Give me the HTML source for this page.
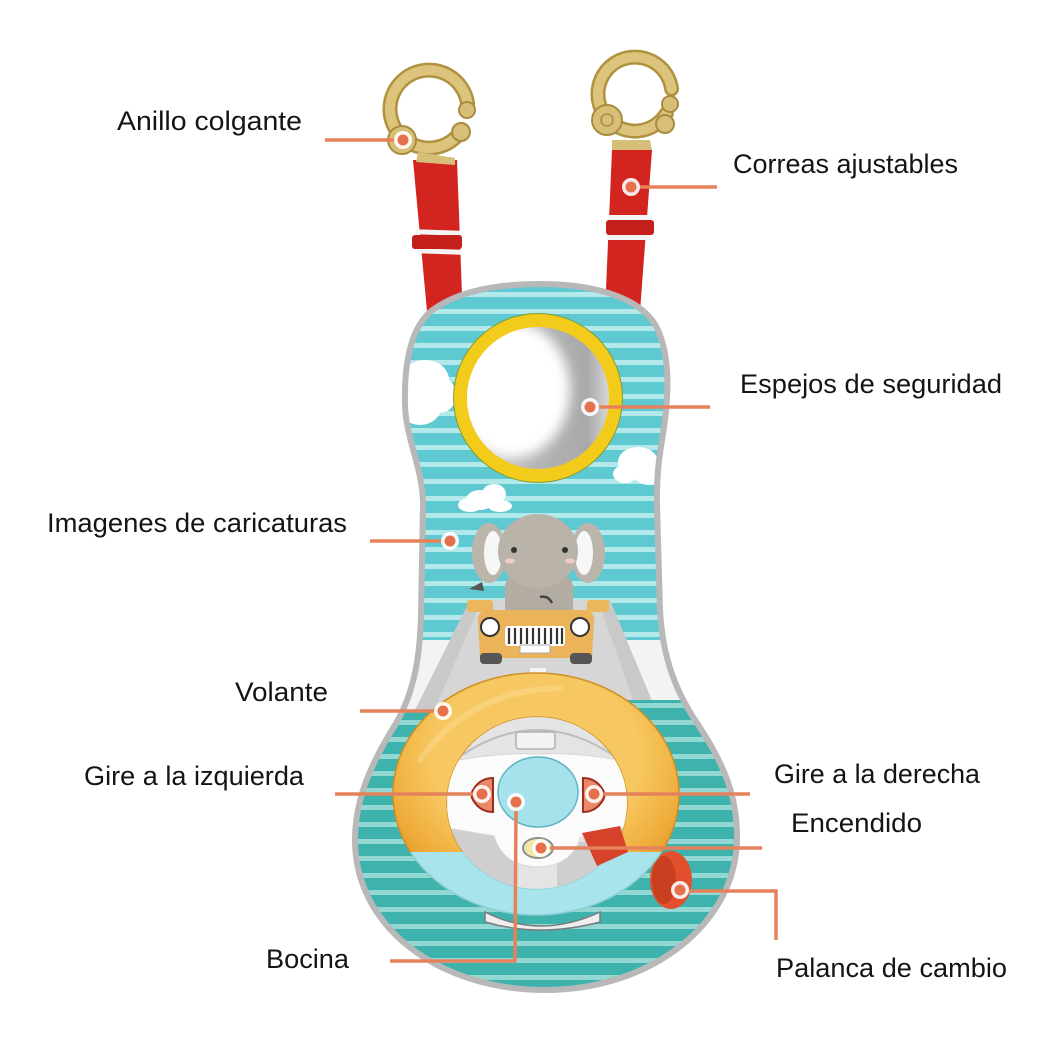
<!DOCTYPE html>
<html><head><meta charset="utf-8">
<style>
html,body{margin:0;padding:0;background:#fff;}
svg{display:block;}
.t{font-family:"Liberation Sans",Arial,sans-serif;font-size:27px;fill:#141414;}
</style></head><body>
<svg width="1056" height="1040" viewBox="0 0 1056 1040" xmlns="http://www.w3.org/2000/svg">
<defs>
  <pattern id="sUp" width="40" height="17" patternUnits="userSpaceOnUse" x="0" y="3">
    <rect width="40" height="17" fill="#5fc9d1"/>
    <rect y="0" width="40" height="5" fill="#b4e9ec"/>
  </pattern>
  <pattern id="sLo" width="40" height="17" patternUnits="userSpaceOnUse" x="0" y="6">
    <rect width="40" height="17" fill="#3eb3ae"/>
    <rect y="0" width="40" height="5" fill="#93d8d3"/>
  </pattern>
  <clipPath id="board">
    <path d="M540 284 C600 284 648 300 660 335 C670 362 668 395 665 420 C662 445 656 465 657 505 L660 610 C662 650 672 685 695 720 C722 760 738 795 737 840 C735 925 650 990 545 990 C440 990 355 928 355 840 C355 798 372 762 395 725 C413 695 420 660 421 615 L423 505 C423 468 406 440 405 405 C404 365 410 330 430 312 C455 292 495 284 540 284 Z"/>
  </clipPath>
  <linearGradient id="mirg" x1="0" y1="0" x2="1" y2="0">
    <stop offset="0" stop-color="#d0d0d0"/>
    <stop offset="0.5" stop-color="#b4b4b4"/>
    <stop offset="0.85" stop-color="#a9a9a9"/>
    <stop offset="1" stop-color="#d8d8d8"/>
  </linearGradient>
  <filter id="blur6" x="-30%" y="-30%" width="160%" height="160%"><feGaussianBlur stdDeviation="6"/></filter>
  <clipPath id="mirclip"><circle cx="538" cy="398" r="71"/></clipPath>
  <radialGradient id="gold" cx="0.5" cy="0.35" r="0.65">
    <stop offset="0.55" stop-color="#f7c862"/>
    <stop offset="0.8" stop-color="#f0ae3c"/>
    <stop offset="1" stop-color="#de9526"/>
  </radialGradient>
  <clipPath id="blueclip"><rect x="380" y="852" width="320" height="80"/></clipPath>
  <clipPath id="hole"><ellipse cx="537" cy="803" rx="90" ry="86"/></clipPath>
</defs>

<!-- straps -->
<polygon points="413,160 457,160 463,322 428,322" fill="#d2251f"/>
<rect x="416" y="230" width="44" height="5" fill="#f4f4f4" transform="rotate(2 438 232)"/>
<rect x="417" y="249" width="44" height="5" fill="#f4f4f4" transform="rotate(2 438 251)"/>
<rect x="412" y="235" width="50" height="14" rx="3" fill="#c4201b"/>
<polygon points="612,150 652,150 640,312 605,312" fill="#d2251f"/>
<rect x="608" y="215" width="44" height="5" fill="#f4f4f4"/>
<rect x="607" y="235" width="44" height="5" fill="#f4f4f4"/>
<rect x="606" y="220" width="48" height="15" rx="3" fill="#c4201b"/>

<!-- rings -->
<g fill="none" stroke-linecap="round">
  <path d="M467.6 103.6 A39 39 0 1 0 462.1 129.7" stroke="#b0913e" stroke-width="15"/>
  <path d="M467.6 103.6 A39 39 0 1 0 462.1 129.7" stroke="#dcc47c" stroke-width="10"/>
  <path d="M671.6 88.9 A37 37 0 1 0 666.4 113.6" stroke="#b0913e" stroke-width="15"/>
  <path d="M671.6 88.9 A37 37 0 1 0 666.4 113.6" stroke="#dcc47c" stroke-width="10"/>
</g>
<circle cx="467" cy="110" r="8" fill="#d8bf78" stroke="#a88c40" stroke-width="2"/>
<circle cx="461" cy="132" r="9" fill="#d8bf78" stroke="#a88c40" stroke-width="2"/>
<circle cx="402" cy="140" r="14" fill="#d8bf78" stroke="#a88c40" stroke-width="2"/>
<path d="M418 152 L455 158 L455 165 L416 162 Z" fill="#d6bf78"/>
<circle cx="670" cy="104" r="8" fill="#d8bf78" stroke="#a88c40" stroke-width="2"/>
<circle cx="665" cy="124" r="9" fill="#d8bf78" stroke="#a88c40" stroke-width="2"/>
<circle cx="607" cy="120" r="15" fill="#d8bf78" stroke="#a88c40" stroke-width="2"/>
<circle cx="607" cy="120" r="6" fill="none" stroke="#a88c40" stroke-width="1.5"/>
<path d="M612 140 L650 140 L652 150 L612 150 Z" fill="#d6bf78"/>

<!-- board -->
<g clip-path="url(#board)">
  <rect x="340" y="270" width="420" height="740" fill="#f3f3f3"/>
  <rect x="340" y="270" width="420" height="370" fill="url(#sUp)"/>
  <!-- road -->
  <polygon points="470,600 610,600 660,720 410,720" fill="#c9c9c9"/>
  <polygon points="482,600 598,600 640,720 430,720" fill="#d6d6d6"/>
  <rect x="530" y="668" width="16" height="10" fill="#f5f5f5"/>
  <rect x="526" y="690" width="22" height="12" fill="#f5f5f5"/>
  <path d="M340 718 L540 700 L760 700 L760 1010 L340 1010 Z" fill="url(#sLo)"/>
  <!-- clouds -->
  <g fill="#ffffff">
    <ellipse cx="425" cy="380" rx="24" ry="20"/>
    <ellipse cx="420" cy="405" rx="22" ry="20"/>
    <ellipse cx="440" cy="395" rx="16" ry="18"/>
    <ellipse cx="638" cy="462" rx="20" ry="15"/>
    <ellipse cx="650" cy="472" rx="18" ry="13"/>
    <ellipse cx="625" cy="474" rx="12" ry="9"/>
    <ellipse cx="480" cy="500" rx="14" ry="10"/>
    <ellipse cx="494" cy="494" rx="12" ry="10"/>
    <ellipse cx="470" cy="505" rx="12" ry="7"/>
    <ellipse cx="500" cy="506" rx="12" ry="6"/>
  </g>
</g>
<path d="M540 284 C600 284 648 300 660 335 C670 362 668 395 665 420 C662 445 656 465 657 505 L660 610 C662 650 672 685 695 720 C722 760 738 795 737 840 C735 925 650 990 545 990 C440 990 355 928 355 840 C355 798 372 762 395 725 C413 695 420 660 421 615 L423 505 C423 468 406 440 405 405 C404 365 410 330 430 312 C455 292 495 284 540 284 Z" fill="none" stroke="#b8b8b8" stroke-width="6"/>

<!-- mirror -->
<circle cx="538" cy="398" r="85" fill="#7a9e3a"/>
<circle cx="538" cy="398" r="84" fill="#f3cb1b"/>
<circle cx="538" cy="398" r="71" fill="url(#mirg)"/>
<g clip-path="url(#mirclip)">
  <ellipse cx="512" cy="390" rx="58" ry="68" fill="#ffffff" filter="url(#blur6)"/>
  <ellipse cx="505" cy="385" rx="45" ry="55" fill="#ffffff"/>
</g>

<!-- elephant -->
<ellipse cx="489" cy="553" rx="17" ry="30" fill="#bcb5ac"/>
<ellipse cx="493" cy="553" rx="9" ry="22" fill="#f7f7f7"/>
<ellipse cx="588" cy="553" rx="17" ry="30" fill="#bcb5ac"/>
<ellipse cx="584" cy="553" rx="9" ry="22" fill="#f7f7f7"/>
<rect x="505" y="575" width="68" height="45" rx="12" fill="#b3aca3"/>
<ellipse cx="538" cy="551" rx="40" ry="37" fill="#bab3aa"/>
<circle cx="514" cy="550" r="3" fill="#333"/>
<circle cx="565" cy="550" r="3" fill="#333"/>
<ellipse cx="510" cy="561" rx="5" ry="2.5" fill="#f1cdc4"/>
<ellipse cx="570" cy="561" rx="5" ry="2.5" fill="#f1cdc4"/>
<path d="M540 597 Q548 595 552 603" stroke="#444" stroke-width="2.5" fill="none"/>
<polygon points="469,589 482,582 484,591" fill="#555"/>
<!-- car -->
<rect x="467" y="600" width="26" height="12" rx="3" fill="#ecb65c"/>
<rect x="587" y="600" width="22" height="12" rx="3" fill="#ecb65c"/>
<path d="M480 658 L478 620 Q478 610 490 610 L583 610 Q594 610 594 620 L592 658 Z" fill="#ebb45a"/>
<rect x="480" y="653" width="22" height="11" rx="4" fill="#555"/>
<rect x="570" y="653" width="22" height="11" rx="4" fill="#555"/>
<circle cx="490" cy="627" r="9" fill="#fff" stroke="#333" stroke-width="2"/>
<circle cx="580" cy="627" r="9" fill="#fff" stroke="#333" stroke-width="2"/>
<rect x="505" y="626" width="60" height="20" rx="3" fill="#fff"/>
<g stroke="#333" stroke-width="2.2">
  <line x1="509" y1="628" x2="509" y2="644"/><line x1="515" y1="628" x2="515" y2="644"/>
  <line x1="521" y1="628" x2="521" y2="644"/><line x1="527" y1="628" x2="527" y2="644"/>
  <line x1="533" y1="628" x2="533" y2="644"/><line x1="539" y1="628" x2="539" y2="644"/>
  <line x1="545" y1="628" x2="545" y2="644"/><line x1="551" y1="628" x2="551" y2="644"/>
  <line x1="557" y1="628" x2="557" y2="644"/><line x1="562" y1="628" x2="562" y2="644"/>
</g>
<rect x="520" y="645" width="30" height="8" fill="#fff" stroke="#aaa" stroke-width="1"/>

<!-- wheel base -->
<path d="M485 912 Q540 940 600 912 L600 922 Q540 938 485 922 Z" fill="#eeeeee" stroke="#7a7a7a" stroke-width="1.5"/>
<!-- gear knob -->
<ellipse cx="671" cy="880" rx="21" ry="29" fill="#e14f2d"/>
<ellipse cx="664" cy="880" rx="12" ry="24" fill="#c8401f"/>

<!-- steering ring -->
<path fill-rule="evenodd" fill="url(#gold)" stroke="#d18f22" stroke-width="1.5"
  d="M393 794 A143 121 0 1 0 679 794 A143 121 0 1 0 393 794 Z M447 803 A90 86 0 1 1 627 803 A90 86 0 1 1 447 803 Z"/>
<path fill-rule="evenodd" fill="#a9e3eb" clip-path="url(#blueclip)" stroke="#86d2dc" stroke-width="1.5"
  d="M393 794 A143 121 0 1 0 679 794 A143 121 0 1 0 393 794 Z M447 803 A90 86 0 1 1 627 803 A90 86 0 1 1 447 803 Z"/>
<path d="M420 760 Q470 690 560 688" stroke="#fbdc95" stroke-width="6" fill="none" opacity="0.45" stroke-linecap="round"/>

<!-- hub -->
<g clip-path="url(#hole)">
  <rect x="440" y="710" width="200" height="190" fill="#e4e4e4"/>
  <path d="M455 760 Q537 700 620 760" stroke="#bdbdbd" stroke-width="2" fill="none"/>
  <rect x="516" y="732" width="39" height="17" rx="3" fill="#f3f3f3" stroke="#b0b0b0" stroke-width="1.5"/>
  <path d="M447 823 L517 830 L517 890 L447 890 Z" fill="#cfcfcf"/>
  <path d="M557 845 L635 835 L635 890 L557 890 Z" fill="#cfcfcf"/>
  <path d="M447 762 Q500 752 537 754 Q580 752 630 762 L630 827 Q600 832 580 838 Q572 866 537 867 Q503 866 494 836 Q470 832 447 828 Z" fill="#fbfbfb" stroke="#d6d6d6" stroke-width="1"/>
</g>
<ellipse cx="538" cy="792" rx="40" ry="35" fill="#a5e2ec" stroke="#5fb6c2" stroke-width="1.5"/>
<!-- turn buttons -->
<path d="M493 778 L493 812 Q480 812 473 800 Q470 795 473 790 Q480 778 493 778 Z" fill="#e9896a" stroke="#9c2e1e" stroke-width="2"/>
<path d="M583 778 L583 812 Q596 812 603 800 Q606 795 603 790 Q596 778 583 778 Z" fill="#e9896a" stroke="#9c2e1e" stroke-width="2"/>
<!-- encendido button -->
<ellipse cx="538" cy="848" rx="15" ry="10" fill="#f3e7a6" stroke="#8f8f8f" stroke-width="2"/>
<!-- lever -->
<polygon points="582,833 620,826 628,852 597,866" fill="#d6432a"/>

<!-- callout lines -->
<g stroke="#e5825c" stroke-width="3.5" fill="none">
  <line x1="325" y1="140" x2="395" y2="140"/>
  <line x1="638" y1="187" x2="717" y2="187"/>
  <line x1="597" y1="407" x2="710" y2="407"/>
  <line x1="370" y1="541" x2="443" y2="541"/>
  <line x1="360" y1="711" x2="436" y2="711"/>
  <line x1="335" y1="794" x2="475" y2="794"/>
  <line x1="601" y1="794" x2="750" y2="794"/>
  <line x1="548" y1="848" x2="762" y2="848"/>
  <polyline points="516,809 515,961 390,961"/>
  <polyline points="687,891 776,891 776,940"/>
</g>
<g>
  <g fill="#fff" opacity="0.9">
    <circle cx="403" cy="140" r="9"/><circle cx="631" cy="187" r="9"/>
    <circle cx="590" cy="407" r="9"/><circle cx="450" cy="541" r="9"/>
    <circle cx="443" cy="711" r="9"/><circle cx="482" cy="794" r="9"/>
    <circle cx="594" cy="794" r="9"/><circle cx="541" cy="848" r="9"/>
    <circle cx="516" cy="802" r="9"/><circle cx="680" cy="890" r="9"/>
  </g>
  <g fill="#e5704c">
    <circle cx="403" cy="140" r="5.5"/><circle cx="631" cy="187" r="5.5"/>
    <circle cx="590" cy="407" r="5.5"/><circle cx="450" cy="541" r="5.5"/>
    <circle cx="443" cy="711" r="5.5"/><circle cx="482" cy="794" r="5.5"/>
    <circle cx="594" cy="794" r="5.5"/><circle cx="541" cy="848" r="5.5"/>
    <circle cx="516" cy="802" r="5.5"/><circle cx="680" cy="890" r="5.5"/>
  </g>
</g>

<!-- labels -->
<text class="t" x="117" y="130" textLength="185" lengthAdjust="spacingAndGlyphs">Anillo colgante</text>
<text class="t" x="733" y="173" textLength="225" lengthAdjust="spacingAndGlyphs">Correas ajustables</text>
<text class="t" x="740" y="393" textLength="262" lengthAdjust="spacingAndGlyphs">Espejos de seguridad</text>
<text class="t" x="47" y="532" textLength="300" lengthAdjust="spacingAndGlyphs">Imagenes de caricaturas</text>
<text class="t" x="235" y="701" textLength="93" lengthAdjust="spacingAndGlyphs">Volante</text>
<text class="t" x="84" y="785" textLength="220" lengthAdjust="spacingAndGlyphs">Gire a la izquierda</text>
<text class="t" x="774" y="783" textLength="206" lengthAdjust="spacingAndGlyphs">Gire a la derecha</text>
<text class="t" x="791" y="832" textLength="131" lengthAdjust="spacingAndGlyphs">Encendido</text>
<text class="t" x="266" y="968" textLength="83" lengthAdjust="spacingAndGlyphs">Bocina</text>
<text class="t" x="776" y="977" textLength="231" lengthAdjust="spacingAndGlyphs">Palanca de cambio</text>
</svg>
</body></html>
